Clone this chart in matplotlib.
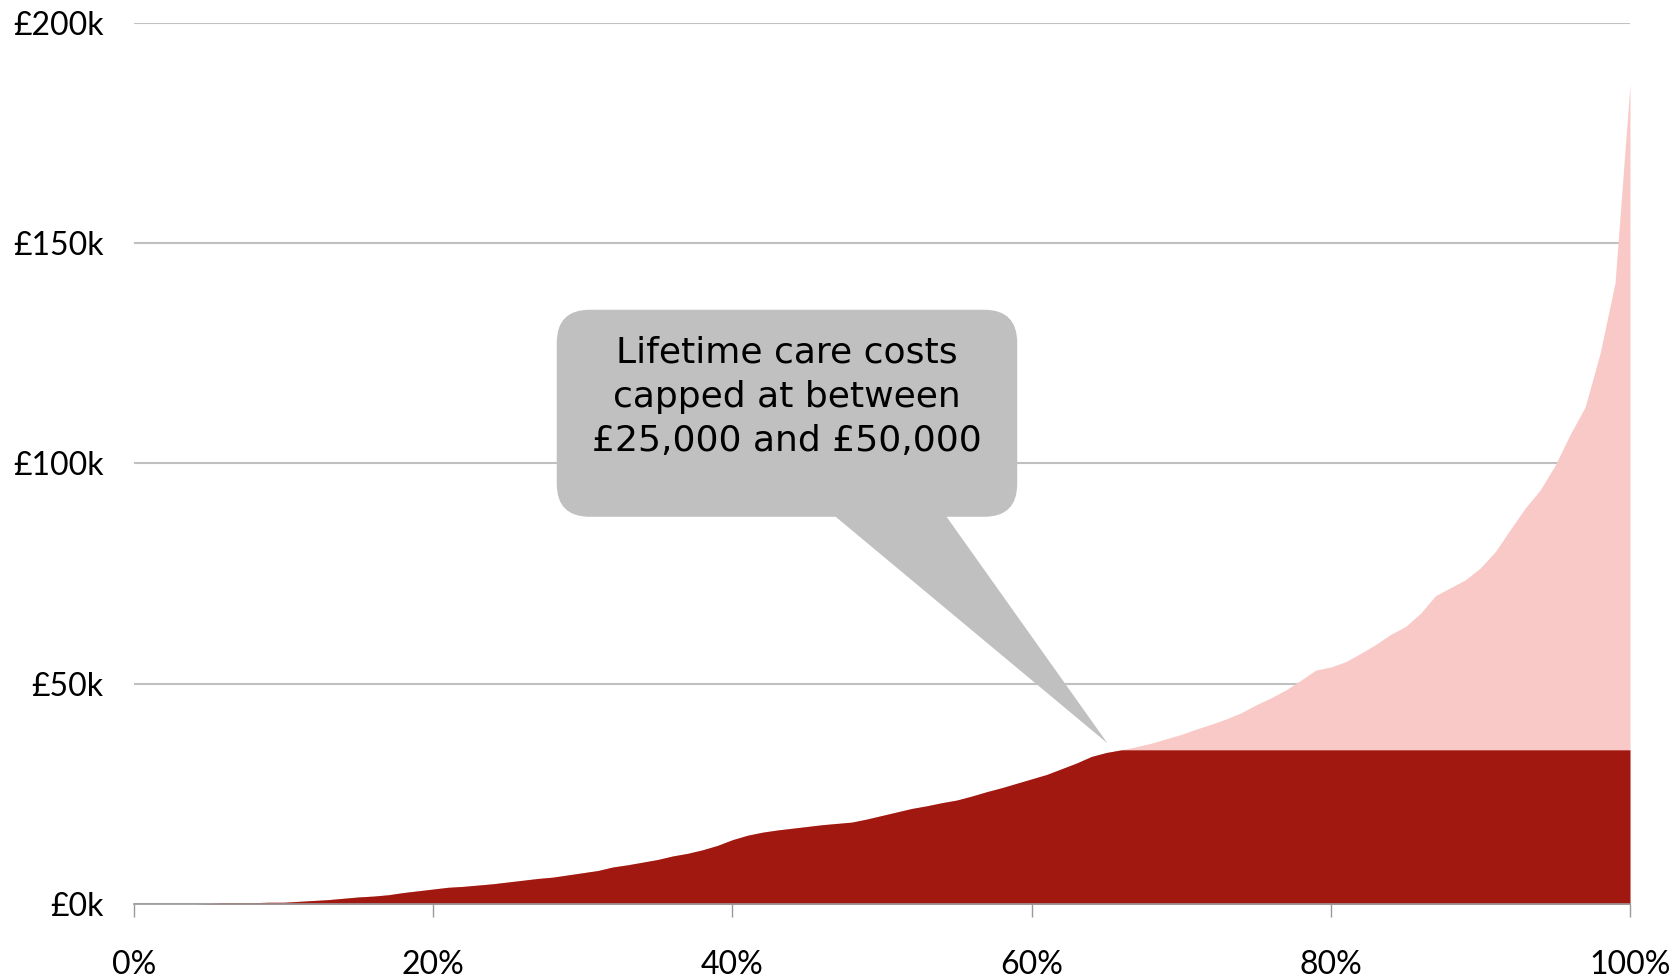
import matplotlib
matplotlib.use("Agg")
import matplotlib.pyplot as plt
from matplotlib.patches import FancyBboxPatch, Polygon
import numpy as np

# share of people (percentile) and their lifetime care cost, in £k
percentile = list(range(0, 101))
cost_k = [
    0, 0, 0, 0, 0, 0.1, 0.3, 0.3, 0.3, 0.4,
    0.4, 0.6, 0.8, 1.0, 1.3, 1.6, 1.8, 2.1, 2.6, 3.0,
    3.4, 3.8, 4.0, 4.3, 4.6, 5.0, 5.4, 5.8, 6.1, 6.6,
    7.1, 7.6, 8.4, 8.9, 9.5, 10.1, 10.9, 11.5, 12.3, 13.3,
    14.6, 15.6, 16.3, 16.8, 17.2, 17.6, 18.0, 18.3, 18.6, 19.3,
    20.1, 20.9, 21.7, 22.3, 23.0, 23.6, 24.5, 25.5, 26.4, 27.4,
    28.4, 29.4, 30.7, 32.0, 33.5, 34.4, 35.0, 35.7, 36.5, 37.5,
    38.5, 39.7, 40.8, 42.0, 43.4, 45.2, 46.8, 48.6, 50.8, 53.1,
    53.8, 55.0, 56.9, 58.9, 61.2, 63.0, 66.0, 70.0, 71.8, 73.6,
    76.3, 80.0, 85.0, 89.9, 94.0, 99.6, 106.6, 112.8, 125.0, 141.0,
    186.0,
]
cap_k = 35.0

y_ticks_k = [0, 50, 100, 150, 200]
y_labels = ["£0k", "£50k", "£100k", "£150k", "£200k"]
x_ticks = [0, 20, 40, 60, 80, 100]
x_labels = ["0%", "20%", "40%", "60%", "80%", "100%"]

callout_text = "Lifetime care costs\ncapped at between\n£25,000 and £50,000"

# callout layout (data units: percent, £)
box_x0, box_x1 = 28.26, 59.04
box_y0, box_y1 = 87900, 134900
ptr_x0, ptr_x1 = 46.2, 53.9
tip = (65.07, 36500)
text_xy = (43.65, 115200)

DARK_RED = "#a01810"
PINK = "#f8c9c6"
GREY = "#c0c0c0"


def main():
    x = np.array(percentile, dtype=float)
    cost = np.array(cost_k) * 1000
    capped = np.minimum(cost, cap_k * 1000)

    fig = plt.figure(figsize=(16.81, 9.8), dpi=100)
    ax = fig.add_axes([0.0797, 0.07755, 0.88995, 0.899])

    ax.fill_between(x, 0, cost, color=PINK, lw=0, zorder=2)
    ax.fill_between(x, 0, capped, color=DARK_RED, lw=0, zorder=3)

    ax.set_xlim(0, 100)
    ax.set_ylim(0, 200000)

    ax.set_yticks([v * 1000 for v in y_ticks_k])
    ax.set_yticklabels(y_labels)
    ax.set_xticks(x_ticks)
    ax.set_xticklabels(x_labels)

    ax.grid(axis="y", color=GREY, lw=1.5, zorder=1)
    ax.grid(axis="x", visible=False)
    ax.set_axisbelow(True)

    for side in ["left", "top", "right"]:
        ax.spines[side].set_visible(False)
    ax.spines["bottom"].set_color("#999999")
    ax.spines["bottom"].set_linewidth(1.2)
    ax.spines["bottom"].set_zorder(4)

    ax.tick_params(axis="y", length=0, pad=22, labelsize=23, labelcolor="black")
    ax.tick_params(axis="x", length=9, width=1.0, color="#999999", direction="out",
                   pad=24, labelsize=23, labelcolor="black")
    for lab in ax.get_xticklabels() + ax.get_yticklabels():
        lab.set_fontfamily("Lato")

    # rounded box: scale rounding so the corners look circular on screen
    px_per_x = fig.get_figwidth() * fig.dpi * 0.88995 / 100
    px_per_y = fig.get_figheight() * fig.dpi * 0.899 / 200000
    aspect = px_per_x / px_per_y
    radius = 33 / px_per_x
    box = FancyBboxPatch((box_x0, box_y0), box_x1 - box_x0, box_y1 - box_y0,
                         boxstyle="round,pad=0,rounding_size=%f" % radius,
                         mutation_aspect=aspect, fc=GREY, ec="none", zorder=5)
    ax.add_patch(box)
    pointer = Polygon([(ptr_x0, box_y0 + 2000), (ptr_x1, box_y0 + 2000), tip],
                      closed=True, fc=GREY, ec="none", zorder=5)
    ax.add_patch(pointer)

    ax.text(text_xy[0], text_xy[1], callout_text, ha="center", va="center",
            multialignment="center", fontsize=26, linespacing=1.38,
            family="DejaVu Sans", color="black", zorder=6)

    fig.savefig("out.png", dpi=100)


if __name__ == "__main__":
    main()
